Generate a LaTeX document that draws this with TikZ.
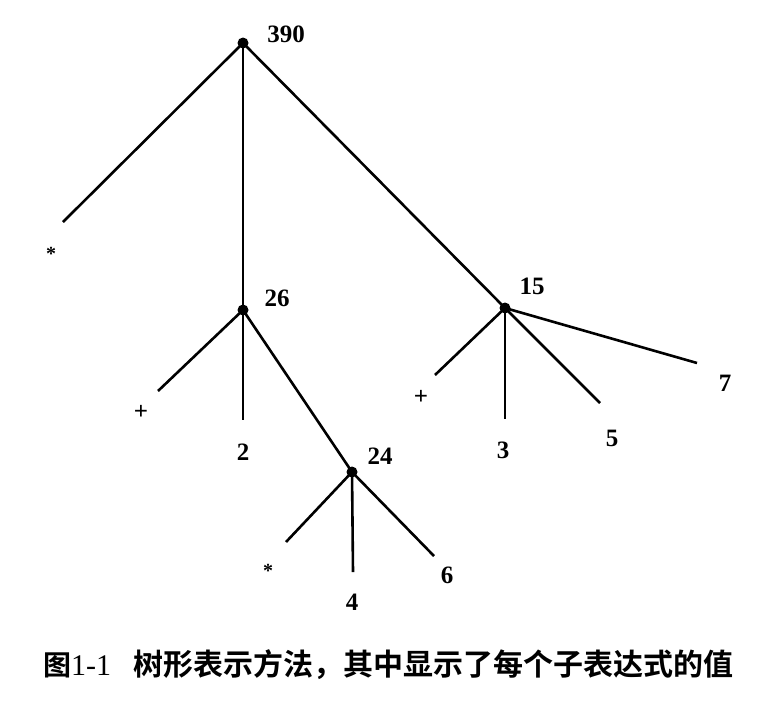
\documentclass[tikz,border=0pt]{standalone}
\usepackage{fontspec}
\setmainfont{Liberation Serif}
\newfontfamily\cjk{Noto Sans CJK SC}[UprightFont=* Bold]

\begin{document}
\begin{tikzpicture}[x=1pt,y=-1pt,
    dot/.style={circle,fill,inner sep=0pt,minimum size=11pt},
    val/.style={inner sep=0pt,font=\bfseries\fontsize{25}{30}\selectfont},
    op/.style={inner sep=0pt,font=\bfseries\fontsize{20}{24}\selectfont},
    branch/.style={line width=2.6pt}]
  \useasboundingbox (0,0) rectangle (773,705);
  % operator nodes
  \node[dot] (n390) at (243,43) {};
  \node[dot] (n26) at (243,310) {};
  \node[dot] (n24) at (352,472) {};
  \node[dot] (n15) at (505,308) {};
  % values of the subexpressions
  \node[val] (v390) at (286,34) {390};
  \node[val] (v26) at (277,298) {26};
  \node[val] (v24) at (380,456) {24};
  \node[val] (v15) at (532,286) {15};
  % leaves
  \node[op] (s1) at (51,254) {*};
  \node[val] (p1) at (141,412) {+};
  \node[val] (l2) at (243,452) {2};
  \node[op] (s2) at (268,571) {*};
  \node[val] (l4) at (352,602) {4};
  \node[val] (l6) at (447,575) {6};
  \node[val] (p2) at (421,397) {+};
  \node[val] (l3) at (503,450) {3};
  \node[val] (l5) at (612,438) {5};
  \node[val] (l7) at (725,383) {7};
  % free ends of the branches
  \coordinate (e1) at (63,222);
  \coordinate (e2) at (158,391);
  \coordinate (e3) at (243,420);
  \coordinate (e4) at (286,542);
  \coordinate (e5) at (353,572);
  \coordinate (e6) at (434,556);
  \coordinate (e7) at (435,375);
  \coordinate (e8) at (505,419);
  \coordinate (e9) at (600,403);
  \coordinate (e10) at (697,363);
  \draw[branch] (n390.center) -- (e1);
  \draw[branch] (n390.center) -- (n26.center);
  \draw[branch] (n390.center) -- (n15.center);
  \draw[branch] (n26.center) -- (e2);
  \draw[branch] (n26.center) -- (e3);
  \draw[branch] (n26.center) -- (n24.center);
  \draw[branch] (n24.center) -- (e4);
  \draw[branch] (n24.center) -- (e5);
  \draw[branch] (n24.center) -- (e6);
  \draw[branch] (n15.center) -- (e7);
  \draw[branch] (n15.center) -- (e8);
  \draw[branch] (n15.center) -- (e9);
  \draw[branch] (n15.center) -- (e10);
  % caption
  \node[anchor=base west,inner sep=0pt,font=\fontsize{30}{34}\selectfont] (fig) at (43,675)
    {{\cjk\fontsize{28}{34}\selectfont 图}1-1};
  \node[anchor=base west,inner sep=0pt,font=\cjk\fontsize{30}{34}\selectfont] (cap) at (133,675)
    {树形表示方法，其中显示了每个子表达式的值};
\end{tikzpicture}
\end{document}
